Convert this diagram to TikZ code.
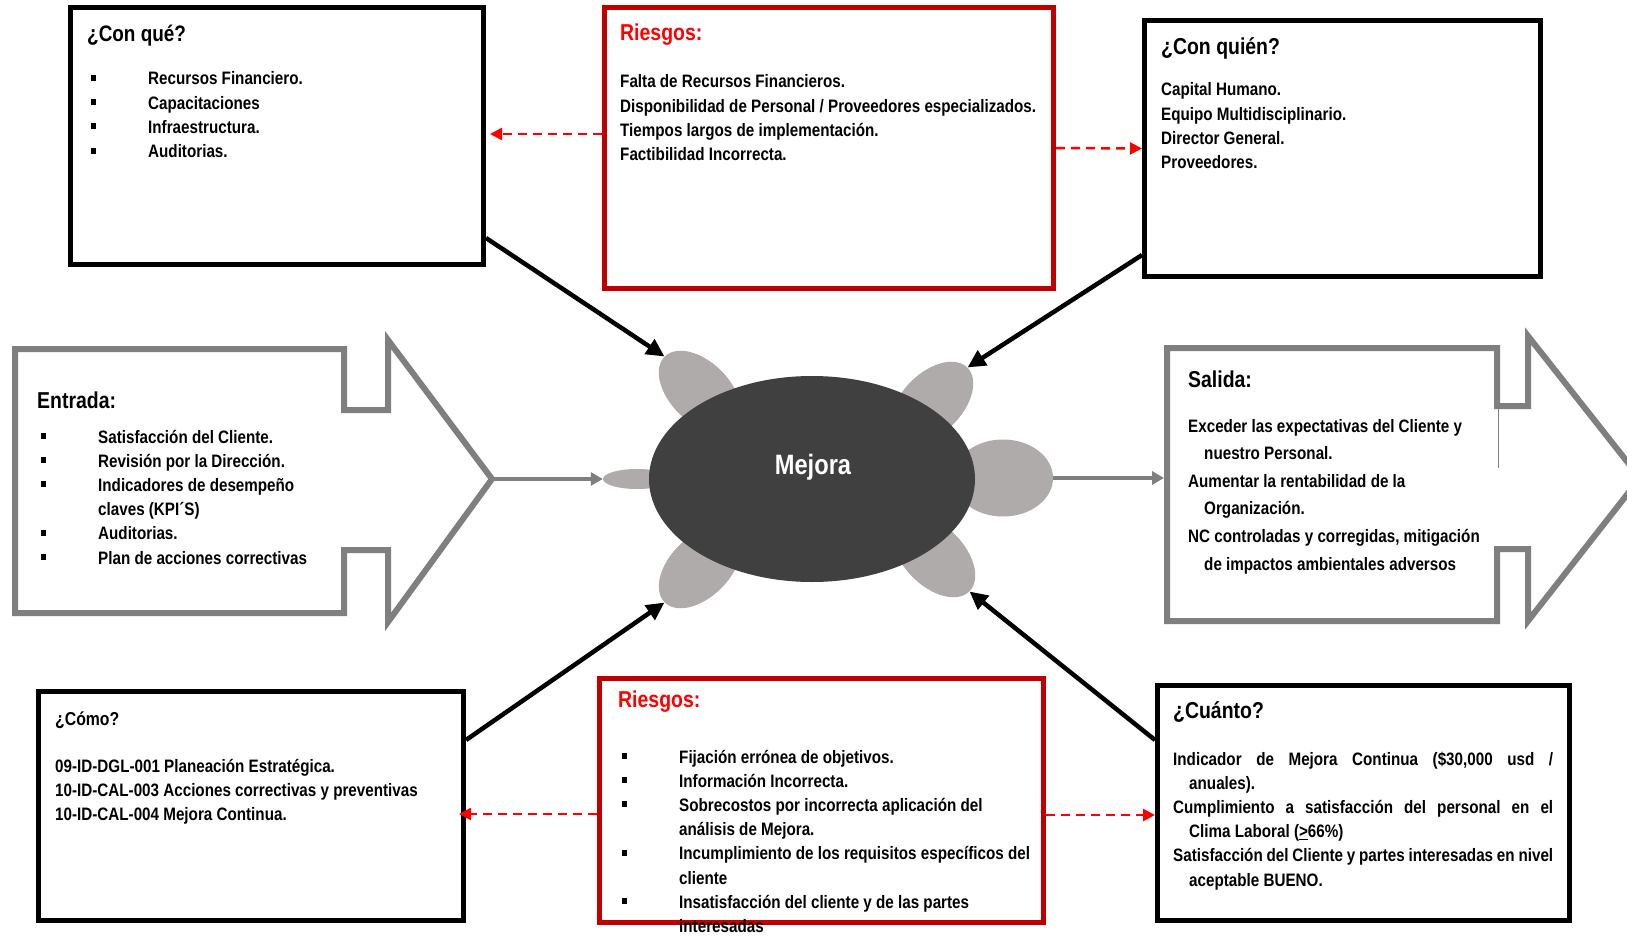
\documentclass[tikz,border=0pt]{standalone}
\usepackage{fontspec}
\setmainfont{Liberation Sans}[FakeStretch=0.845]
\usetikzlibrary{shapes.geometric,arrows.meta}

\definecolor{boxred}{HTML}{C00000}
\definecolor{riskred}{HTML}{FF0000}
\definecolor{flowgray}{HTML}{7F7F7F}
\definecolor{petalgray}{HTML}{AEABAA}
\definecolor{coregray}{HTML}{404040}

% square bullet followed by the text indent
\newcommand{\bul}{\makebox[57pt][l]{\rule[4pt]{5pt}{6pt}}}
\newcommand{\hang}{\hspace*{57pt}}
\newcommand{\cont}{\hspace*{16pt}}

\tikzset{
  x=1pt, y=-1pt,
  framebox/.style={draw=black, line width=5pt, inner sep=0pt, fill=white},
  riskbox/.style={draw=boxred, line width=5pt, inner sep=0pt, fill=white},
  petal/.style={ellipse, fill=petalgray, inner sep=0pt},
  txt/.style={anchor=base west, inner sep=0pt},
  body/.style={font=\bfseries\fontsize{18}{24.2}\selectfont},
  head/.style={font=\bfseries\fontsize{23}{27}\selectfont},
  feed/.style={black, line width=4.5pt, -{Triangle[length=18pt,width=17pt]}},
  riskarrow/.style={riskred, line width=2.5pt, dash pattern=on 9pt off 6pt,
                    -{Triangle[length=12pt,width=12pt]}},
  flow/.style={flowgray, line width=4pt, -{Triangle[length=12pt,width=13pt]}},
  frame/.style={draw=flowgray, line width=6pt, line join=miter},
}

\begin{document}
\begin{tikzpicture}
\useasboundingbox (0,0) rectangle (1627,936);
\fill[white] (0,0) rectangle (1627,936);

% ---- input and output arrow frames
\draw[frame] (344,349) -- (344,410) -- (388,410) -- (388,340) -- (492,479)
  -- (388,622) -- (388,550) -- (344,550) -- (344,613) -- (15,613) -- (15,349) -- cycle;
\coordinate (entTip) at (492,479);

\draw[frame] (1167,348) -- (1497,348) -- (1497,406) -- (1528,406) -- (1528,336)
  -- (1640,478) -- (1528,621) -- (1528,549) -- (1497,549) -- (1497,621)
  -- (1167,621) -- cycle;
\draw[flowgray, line width=1pt] (1498,408) -- (1498,468);
\coordinate (salIn) at (1164,478);

% ---- the turtle: petals under the core ellipse
\node[petal, minimum width=100pt, minimum height=60pt, rotate=-45] (petTL) at (700,392) {};
\node[petal, minimum width=100pt, minimum height=60pt, rotate=45]  (petTR) at (932,403) {};
\node[petal, minimum width=100pt, minimum height=60pt, rotate=45]  (petBL) at (700,567) {};
\node[petal, minimum width=100pt, minimum height=60pt, rotate=-45] (petBR) at (934,556) {};
\node[petal, minimum width=68pt, minimum height=20pt] (petL) at (637,479) {};
\node[petal, minimum width=100pt, minimum height=77pt] (petR) at (1003,478) {};
\node[ellipse, fill=coregray, minimum width=326pt, minimum height=206pt, inner sep=0pt]
  (core) at (812,479) {};
\node[anchor=base, inner sep=0pt, text=white, font=\bfseries\fontsize{28}{30}\selectfont]
  (coreLabel) at (813,474) {Mejora};

% ---- boxes
\node[framebox, minimum width=413pt, minimum height=257pt] (conque) at (277,136) {};
\node[riskbox, minimum width=449pt, minimum height=281pt] (riesgosA) at (829,148) {};
\node[framebox, minimum width=396pt, minimum height=256pt] (conquien) at (1342.5,148.5) {};
\node[framebox, minimum width=425pt, minimum height=229pt] (como) at (251,806) {};
\node[riskbox, minimum width=444pt, minimum height=244pt] (riesgosB) at (821.5,800.5) {};
\node[framebox, minimum width=412pt, minimum height=235pt] (cuanto) at (1363.5,803) {};

% ---- connectors
\draw[flow] (entTip) -- (petL.west);
\draw[flow] (petR.east) -- (salIn);

\draw[feed] ([yshift=29pt]conque.south east) -- (petTL.west);
\draw[feed] ([yshift=24pt]conquien.south west) -- (petTR.east);
\draw[feed] ([yshift=-51pt]como.north east) -- (petBL.west);
\draw[feed] ([yshift=-57pt]cuanto.north west) -- (petBR.east);

\draw[riskarrow, shorten >=4pt] ([yshift=14pt]riesgosA.west) -- ([yshift=2pt]conque.east);
\draw[riskarrow] (riesgosA.east) -- (conquien.west);
\draw[riskarrow, shorten >=-7pt] ([yshift=-13.5pt]riesgosB.west) -- ([yshift=-8pt]como.east);
\draw[riskarrow] ([yshift=-14.5pt]riesgosB.east) -- ([yshift=-12pt]cuanto.west);

% ---- texts
\node[txt, font=\bfseries\fontsize{22.4}{26}\selectfont] (conqueHead) at (87,42) {¿Con qué?};
\node[txt, body] (conqueText) at (91,85) {\parbox[t]{380pt}{\raggedright
  \bul Recursos Financiero.\\
  \bul Capacitaciones\\
  \bul Infraestructura.\\
  \bul Auditorias.}};

\node[txt, head, text=riskred] (riesgosAHead) at (620,41) {Riesgos:};
\node[txt, body] (riesgosAText) at (620,88) {\parbox[t]{430pt}{\raggedright
  Falta de Recursos Financieros.\\
  Disponibilidad de Personal / Proveedores especializados.\\
  Tiempos largos de implementación.\\
  Factibilidad Incorrecta.}};

\node[txt, head] (conquienHead) at (1161,55) {¿Con quién?};
\node[txt, body] (conquienText) at (1161,96) {\parbox[t]{370pt}{\raggedright
  Capital Humano.\\
  Equipo Multidisciplinario.\\
  Director General.\\
  Proveedores.}};

\node[txt, head] (entradaHead) at (37,408) {Entrada:};
\node[txt, body] (entradaText) at (41,443) {\parbox[t]{330pt}{\raggedright
  \bul Satisfacción del Cliente.\\
  \bul Revisión por la Dirección.\\
  \bul Indicadores de desempeño\\
  \hang claves (KPI´S)\\
  \bul Auditorias.\\
  \bul Plan de acciones correctivas}};

\node[txt, head] (salidaHead) at (1188,387) {Salida:};
\node[txt, font=\bfseries\fontsize{18}{27.6}\selectfont] (salidaText) at (1188,432) {\parbox[t]{330pt}{\raggedright
  Exceder las expectativas del Cliente y\\
  \cont nuestro Personal.\\
  Aumentar la rentabilidad de la\\
  \cont Organización.\\
  NC controladas y corregidas, mitigación\\
  \cont de impactos ambientales adversos}};

\node[txt, font=\bfseries\fontsize{18.7}{22}\selectfont] (comoHead) at (55,725) {¿Cómo?};
\node[txt, body] (comoText) at (55,772) {\parbox[t]{400pt}{\raggedright
  09-ID-DGL-001 Planeación Estratégica.\\
  10-ID-CAL-003 Acciones correctivas y preventivas\\
  10-ID-CAL-004 Mejora Continua.}};

\node[txt, head, text=riskred] (riesgosBHead) at (618,707) {Riesgos:};
\node[txt, body] (riesgosBText) at (622,763) {\parbox[t]{420pt}{\raggedright
  \bul Fijación errónea de objetivos.\\
  \bul Información Incorrecta.\\
  \bul Sobrecostos por incorrecta aplicación del\\
  \hang análisis de Mejora.\\
  \bul Incumplimiento de los requisitos específicos del\\
  \hang cliente\\
  \bul Insatisfacción del cliente y de las partes\\
  \hang interesadas}};

\node[txt, head] (cuantoHead) at (1173,718) {¿Cuánto?};
\node[txt, body] (cuantoText) at (1173,765) {\parbox[t]{390pt}{\raggedright
  \makebox[380pt][s]{Indicador de Mejora Continua (\$30,000 usd /}\\
  \cont anuales).\\
  \makebox[380pt][s]{Cumplimiento a satisfacción del personal en el}\\
  \cont Clima Laboral (\underline{>}66\%)\\
  \makebox[380pt][s]{Satisfacción del Cliente y partes interesadas en nivel}\\
  \cont aceptable BUENO.}};
\end{tikzpicture}
\end{document}
